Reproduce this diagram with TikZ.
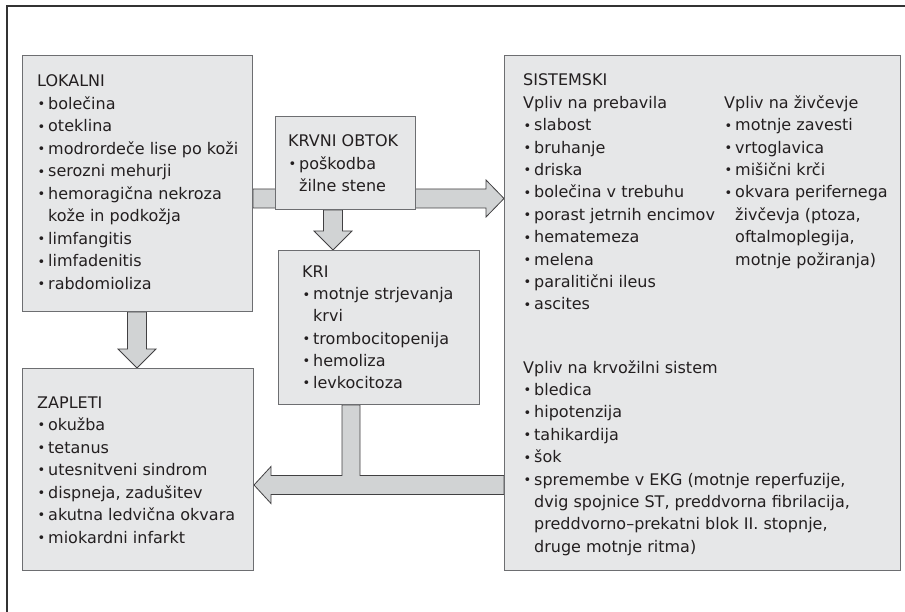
\documentclass[tikz,border=0pt]{standalone}
\usepackage{fontspec}
\setmainfont{DejaVu Sans}
\usetikzlibrary{backgrounds}
\definecolor{boxfill}{HTML}{E6E7E8}
\definecolor{boxline}{HTML}{6D6E71}
\definecolor{arrfill}{HTML}{D1D3D4}
\definecolor{arrline}{HTML}{414042}
\definecolor{txtc}{HTML}{231F20}
\newcommand\bu{\makebox[11pt][l]{\kern0.3pt{\fontsize{13}{13}\selectfont\raisebox{0.6pt}{•}}}}
\newcommand\cu{\hspace*{11pt}}
\tikzset{
  panel/.style={draw=boxline, fill=boxfill, line width=1pt, inner sep=0pt, anchor=north west, rectangle},
  blockarrow/.style={draw=arrline, fill=arrfill, line width=0.8pt, line join=miter},
  txt/.style={anchor=base west, inner sep=0pt, text=txtc, font=\fontsize{16}{22.4}\selectfont},
  frameline/.style={draw=black!80, line width=1.3pt}
}
\begin{document}
\begin{tikzpicture}[x=1pt,y=-1pt]
\useasboundingbox (0,0) rectangle (905,612);
\draw[frameline] (7,612) -- (7,6) -- (905,6);

% boxes
\node[panel, minimum width=230pt, minimum height=256pt] (lok) at (22,55) {};
\node[panel, minimum width=140pt, minimum height=93pt] (krv) at (275,116) {};
\node[panel, minimum width=201pt, minimum height=154pt] (kri) at (278,250) {};
\node[panel, minimum width=396pt, minimum height=515pt] (sys) at (504,55) {};
\node[panel, minimum width=231pt, minimum height=202pt] (zap) at (22,368) {};

% block arrows behind boxes
\begin{scope}[on background layer]
\fill[white] (0,0) rectangle (905,612);
\draw[blockarrow] (lok.east |- 0,189) -- (486,189) -- (486,180) -- (sys.west |- 0,198.5)
   -- (486,217) -- (486,208) -- (lok.east |- 0,208) -- cycle;
\draw[blockarrow] (323.5,0 |- krv.south) -- (342.5,0 |- krv.south) -- (342.5,231) -- (352,231)
   -- (333,0 |- kri.north) -- (314,231) -- (323.5,231) -- cycle;
\draw[blockarrow] (127.5,0 |- lok.south) -- (146.5,0 |- lok.south) -- (146.5,349) -- (156,349)
   -- (137,0 |- zap.north) -- (118,349) -- (127.5,349) -- cycle;
\draw[blockarrow] (sys.west |- 0,475.5) -- (360,475.5) -- (360,0 |- kri.south) -- (342,0 |- kri.south)
   -- (342,475.5) -- (271,475.5) -- (271,466.5) -- (zap.east |- 0,485) -- (271,503.5)
   -- (271,494.5) -- (sys.west |- 0,494.5) -- cycle;
\end{scope}

% texts
\foreach \t [count=\i from 0] in {LOKALNI, \bu bolečina, \bu oteklina, \bu modrordeče lise po koži,
  \bu serozni mehurji, \bu hemoragična nekroza, \cu kože in podkožja, \bu limfangitis,
  \bu limfadenitis, \bu rabdomioliza}
  {\node[txt] (lokt\i) at (37,{87+22.5*\i}) {\t};}
\foreach \t [count=\i from 0] in {KRVNI OBTOK, \bu poškodba, \cu žilne stene}
  {\node[txt] (krvt\i) at (288,{147+22.5*\i}) {\t};}
\foreach \t [count=\i from 0] in {KRI, \bu motnje strjevanja, \cu krvi, \bu trombocitopenija,
  \bu hemoliza, \bu levkocitoza}
  {\node[txt] (krit\i) at (302,{277.5+22.2*\i}) {\t};}
\foreach \t [count=\i from 0] in {SISTEMSKI, Vpliv na prebavila, \bu slabost, \bu bruhanje,
  \bu driska, \bu bolečina v trebuhu, \bu porast jetrnih encimov, \bu hematemeza, \bu melena,
  \bu paralitični ileus, \bu ascites}
  {\node[txt] (sysa\i) at (523,{86+22.4*\i}) {\t};}
\foreach \t [count=\i from 0] in {Vpliv na živčevje, \bu motnje zavesti, \bu vrtoglavica,
  \bu mišični krči, \bu okvara perifernega, {\cu živčevja (ptoza,}, {\cu oftalmoplegija,},
  \cu motnje požiranja)}
  {\node[txt] (sysb\i) at (724,{108.4+22.4*\i}) {\t};}
\foreach \t [count=\i from 0] in {Vpliv na krvožilni sistem, \bu bledica, \bu hipotenzija,
  \bu tahikardija, \bu šok, {\bu spremembe v EKG (motnje reperfuzije,},
  {\cu dvig spojnice ST, preddvorna fibrilacija,}, {\cu preddvorno–prekatni blok II. stopnje,},
  \cu druge motnje ritma)}
  {\node[txt] (sysc\i) at (523,{373+22.4*\i}) {\t};}
\foreach \t [count=\i from 0] in {ZAPLETI, \bu okužba, \bu tetanus, \bu utesnitveni sindrom,
  {\bu dispneja, zadušitev}, \bu akutna ledvična okvara, \bu miokardni infarkt}
  {\node[txt] (zapt\i) at (37,{408+22.5*\i}) {\t};}
\end{tikzpicture}
\end{document}
